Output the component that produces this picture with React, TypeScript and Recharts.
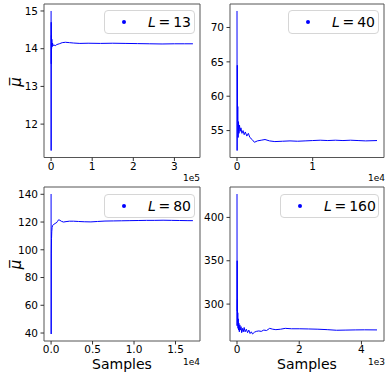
import React from "react";
import { LineChart, Line, XAxis, YAxis, ReferenceArea, Legend } from "recharts";

const FONT = '"DejaVu Sans", sans-serif';

// ---- L = 13 ----
const l13Samples = [0, 150, 300, 500, 800, 1200, 1800, 2500, 3500, 5000, 7000, 10000, 14000, 20000, 27000, 35000, 45000, 55000, 70000, 90000, 120000, 150000, 180000, 210000, 240000, 270000, 300000, 325000, 345000];
const l13Mu = [15.0, 11.3, 14.7, 13.6, 14.35, 14.0, 14.25, 14.05, 14.15, 14.08, 14.1, 14.08, 14.11, 14.13, 14.16, 14.17, 14.16, 14.15, 14.14, 14.145, 14.14, 14.145, 14.14, 14.135, 14.13, 14.125, 14.13, 14.13, 14.13];

// ---- L = 40 ----
const l40Samples = [0, 15, 40, 70, 100, 150, 200, 260, 330, 420, 520, 650, 800, 950, 1100, 1300, 1500, 1700, 2000, 2300, 2700, 3200, 3700, 4300, 5000, 6000, 7000, 8000, 9000, 10000, 11000, 12000, 13000, 14000, 15000, 16000, 17000, 18500];
const l40Mu = [72.4, 52.1, 64.5, 56.5, 58.5, 54.0, 56.3, 54.6, 55.8, 54.9, 55.4, 54.6, 55.0, 54.4, 54.8, 54.2, 54.6, 54.0, 53.7, 53.3, 53.5, 53.6, 53.7, 53.5, 53.4, 53.45, 53.5, 53.45, 53.5, 53.55, 53.6, 53.55, 53.6, 53.55, 53.6, 53.55, 53.5, 53.55];

// ---- L = 80 ----
const l80Samples = [0, 10, 25, 50, 80, 120, 180, 250, 350, 480, 620, 780, 900, 1050, 1250, 1500, 1800, 2200, 2700, 3300, 4000, 4800, 5600, 6500, 7500, 8500, 9500, 10500, 11500, 12500, 13500, 14500, 15500, 16500, 17100];
const l80Mu = [140.2, 39.3, 97, 108, 113, 116, 117.5, 118, 118.3, 119, 119.3, 120.5, 121.6, 121.3, 120.5, 120, 120.3, 120.6, 120.6, 120.4, 120.2, 120.1, 120.4, 120.7, 120.8, 120.9, 121, 121.1, 121.2, 121.2, 121.3, 121.2, 121.1, 121.0, 121.0];

// ---- L = 160 ----
const l160Samples = [0, 3, 6, 10, 14, 18, 25, 32, 40, 50, 60, 75, 90, 110, 130, 150, 175, 200, 230, 260, 300, 340, 380, 420, 460, 500, 560, 620, 700, 780, 860, 950, 1050, 1150, 1250, 1400, 1550, 1750, 2000, 2300, 2600, 2900, 3200, 3500, 3800, 4100, 4500];
const l160Mu = [427, 275, 350, 292, 305, 280, 290, 272, 283, 270, 278, 268, 276, 270, 274, 267, 272, 268, 273, 268, 271, 267, 270, 266, 268, 265.5, 267.5, 268.5, 269, 268.5, 270, 269.5, 272, 271, 270.5, 271, 272, 271.5, 271.5, 271.3, 271, 270.5, 269.8, 270, 270.2, 270.3, 270.2];

// ticks
const l13XTicks = [0, 100000, 200000, 300000];
const l13YTicks = [12, 13, 14, 15];
const l40XTicks = [0, 10000];
const l40YTicks = [55, 60, 65, 70];
const l80XTicks = [0, 5000, 10000, 15000];
const l80YTicks = [40, 60, 80, 100, 120, 140];
const l160XTicks = [0, 2000, 4000];
const l160YTicks = [300, 350, 400];

type Rect = { x0: number; y0: number; x1: number; y1: number };

type PanelProps = {
  samples: number[];
  mu: number[];
  value: string;
  xDomain: [number, number];
  yDomain: [number, number];
  xTicks: number[];
  yTicks: number[];
  xFmt: (v: number) => string;
  plot: Rect;
  legendWidth: number;
};

function Panel(p: PanelProps) {
  const data = p.samples.map((s, i) => ({ x: s, y: p.mu[i] }));
  const YW = 44, MT = 2, MR = 2, XH = 30;
  const left = p.plot.x0 - YW;
  const top = p.plot.y0 - MT;
  const width = p.plot.x1 - p.plot.x0 + YW + MR;
  const height = p.plot.y1 - p.plot.y0 + MT + XH;
  const legLeft = p.plot.x1 - 5 - p.legendWidth - left;
  const legTop = p.plot.y0 + 6.5 - top;
  const tickStyle = { fill: "#000", fontSize: 10.5, fontFamily: FONT };
  return (
    <div style={{ position: "absolute", left, top, width, height }}>
      <LineChart width={width} height={height} data={data} margin={{ top: MT, right: MR, bottom: 0, left: 0 }}>
        <XAxis
          dataKey="x"
          type="number"
          domain={p.xDomain}
          ticks={p.xTicks}
          tickFormatter={p.xFmt}
          height={XH}
          axisLine={false}
          tickLine={{ stroke: "#333" }}
          tickSize={3.5}
          tickMargin={1.2}
          tick={tickStyle}
          allowDataOverflow
          interval={0}
        />
        <YAxis
          type="number"
          domain={p.yDomain}
          ticks={p.yTicks}
          width={YW}
          axisLine={false}
          tickLine={{ stroke: "#333" }}
          tickSize={3.5}
          tickMargin={2.5}
          tick={tickStyle}
          allowDataOverflow
          interval={0}
        />
        <Line dataKey="y" name={p.value} stroke="#0000ff" strokeWidth={1} dot={false} isAnimationActive={false} type="linear" />
        <ReferenceArea
          x1={p.xDomain[0]}
          x2={p.xDomain[1]}
          y1={p.yDomain[0]}
          y2={p.yDomain[1]}
          fill="none"
          fillOpacity={0}
          stroke="#555"
          strokeWidth={1}
          ifOverflow="visible"
        />
        <Legend
          layout="horizontal"
          verticalAlign="middle"
          align="center"
          wrapperStyle={{ left: legLeft, top: legTop, width: p.legendWidth, height: 24 }}
          content={() => (
            <div
              style={{
                position: "relative",
                width: p.legendWidth,
                height: 24,
                boxSizing: "border-box",
                border: "1px solid #d6d6d6",
                borderRadius: 4,
                background: "rgba(255,255,255,0.8)",
                fontFamily: FONT,
                color: "#000",
              }}
            >
              <span
                style={{
                  position: "absolute",
                  left: 16.7,
                  top: 9.3,
                  width: 4,
                  height: 4,
                  borderRadius: "50%",
                  background: "#0000ff",
                }}
              />
              <span style={{ position: "absolute", left: 43, top: 0, lineHeight: "22px", fontSize: 14, whiteSpace: "nowrap" }}>
                <i>L</i>
                {"\u2009=\u2009" + p.value}
              </span>
            </div>
          )}
        />
      </LineChart>
    </div>
  );
}

export default function App() {
  return (
    <div style={{ position: "absolute", left: 0, top: 0, width: 390, height: 374, background: "#fff", fontFamily: FONT }}>
      <Panel
        samples={l13Samples}
        mu={l13Mu}
        value="13"
        xDomain={[-17250, 362250]}
        yDomain={[11.115, 15.185]}
        xTicks={l13XTicks}
        yTicks={l13YTicks}
        xFmt={(v) => String(v / 1e5)}
        plot={{ x0: 44, y0: 3.5, x1: 200, y1: 157 }}
        legendWidth={91}
      />
      <Panel
        samples={l40Samples}
        mu={l40Mu}
        value="40"
        xDomain={[-925, 19425]}
        yDomain={[51.085, 73.415]}
        xTicks={l40XTicks}
        yTicks={l40YTicks}
        xFmt={(v) => String(v / 1e4)}
        plot={{ x0: 230, y0: 3.5, x1: 384, y1: 157 }}
        legendWidth={91}
      />
      <Panel
        samples={l80Samples}
        mu={l80Mu}
        value="80"
        xDomain={[-855, 17955]}
        yDomain={[34.25, 145.25]}
        xTicks={l80XTicks}
        yTicks={l80YTicks}
        xFmt={(v) => (v / 1e4).toFixed(1)}
        plot={{ x0: 44, y0: 187, x1: 200, y1: 341 }}
        legendWidth={91}
      />
      <Panel
        samples={l160Samples}
        mu={l160Mu}
        value="160"
        xDomain={[-225, 4725]}
        yDomain={[257.4, 435.1]}
        xTicks={l160XTicks}
        yTicks={l160YTicks}
        xFmt={(v) => String(v / 1e3)}
        plot={{ x0: 230, y0: 187, x1: 384, y1: 341 }}
        legendWidth={99}
      />
      <svg
        width={390}
        height={374}
        style={{ position: "absolute", left: 0, top: 0, pointerEvents: "none" }}
        fontFamily={FONT}
      >
        <text x={15.5} y={82} transform="rotate(-90 15.5 82)" textAnchor="middle" dominantBaseline="central" fontSize={15} fontStyle="italic">
          {"\u03BC\u0305"}
        </text>
        <text x={15.5} y={264.5} transform="rotate(-90 15.5 264.5)" textAnchor="middle" dominantBaseline="central" fontSize={15} fontStyle="italic">
          {"\u03BC\u0305"}
        </text>
        <text x={122} y={369.3} textAnchor="middle" fontSize={14}>Samples</text>
        <text x={307} y={369.3} textAnchor="middle" fontSize={14}>Samples</text>
        <text x={200} y={181} textAnchor="end" fontSize={9}>1e5</text>
        <text x={385} y={181} textAnchor="end" fontSize={9}>1e4</text>
        <text x={200} y={365} textAnchor="end" fontSize={9}>1e4</text>
        <text x={385} y={365} textAnchor="end" fontSize={9}>1e3</text>
      </svg>
    </div>
  );
}
